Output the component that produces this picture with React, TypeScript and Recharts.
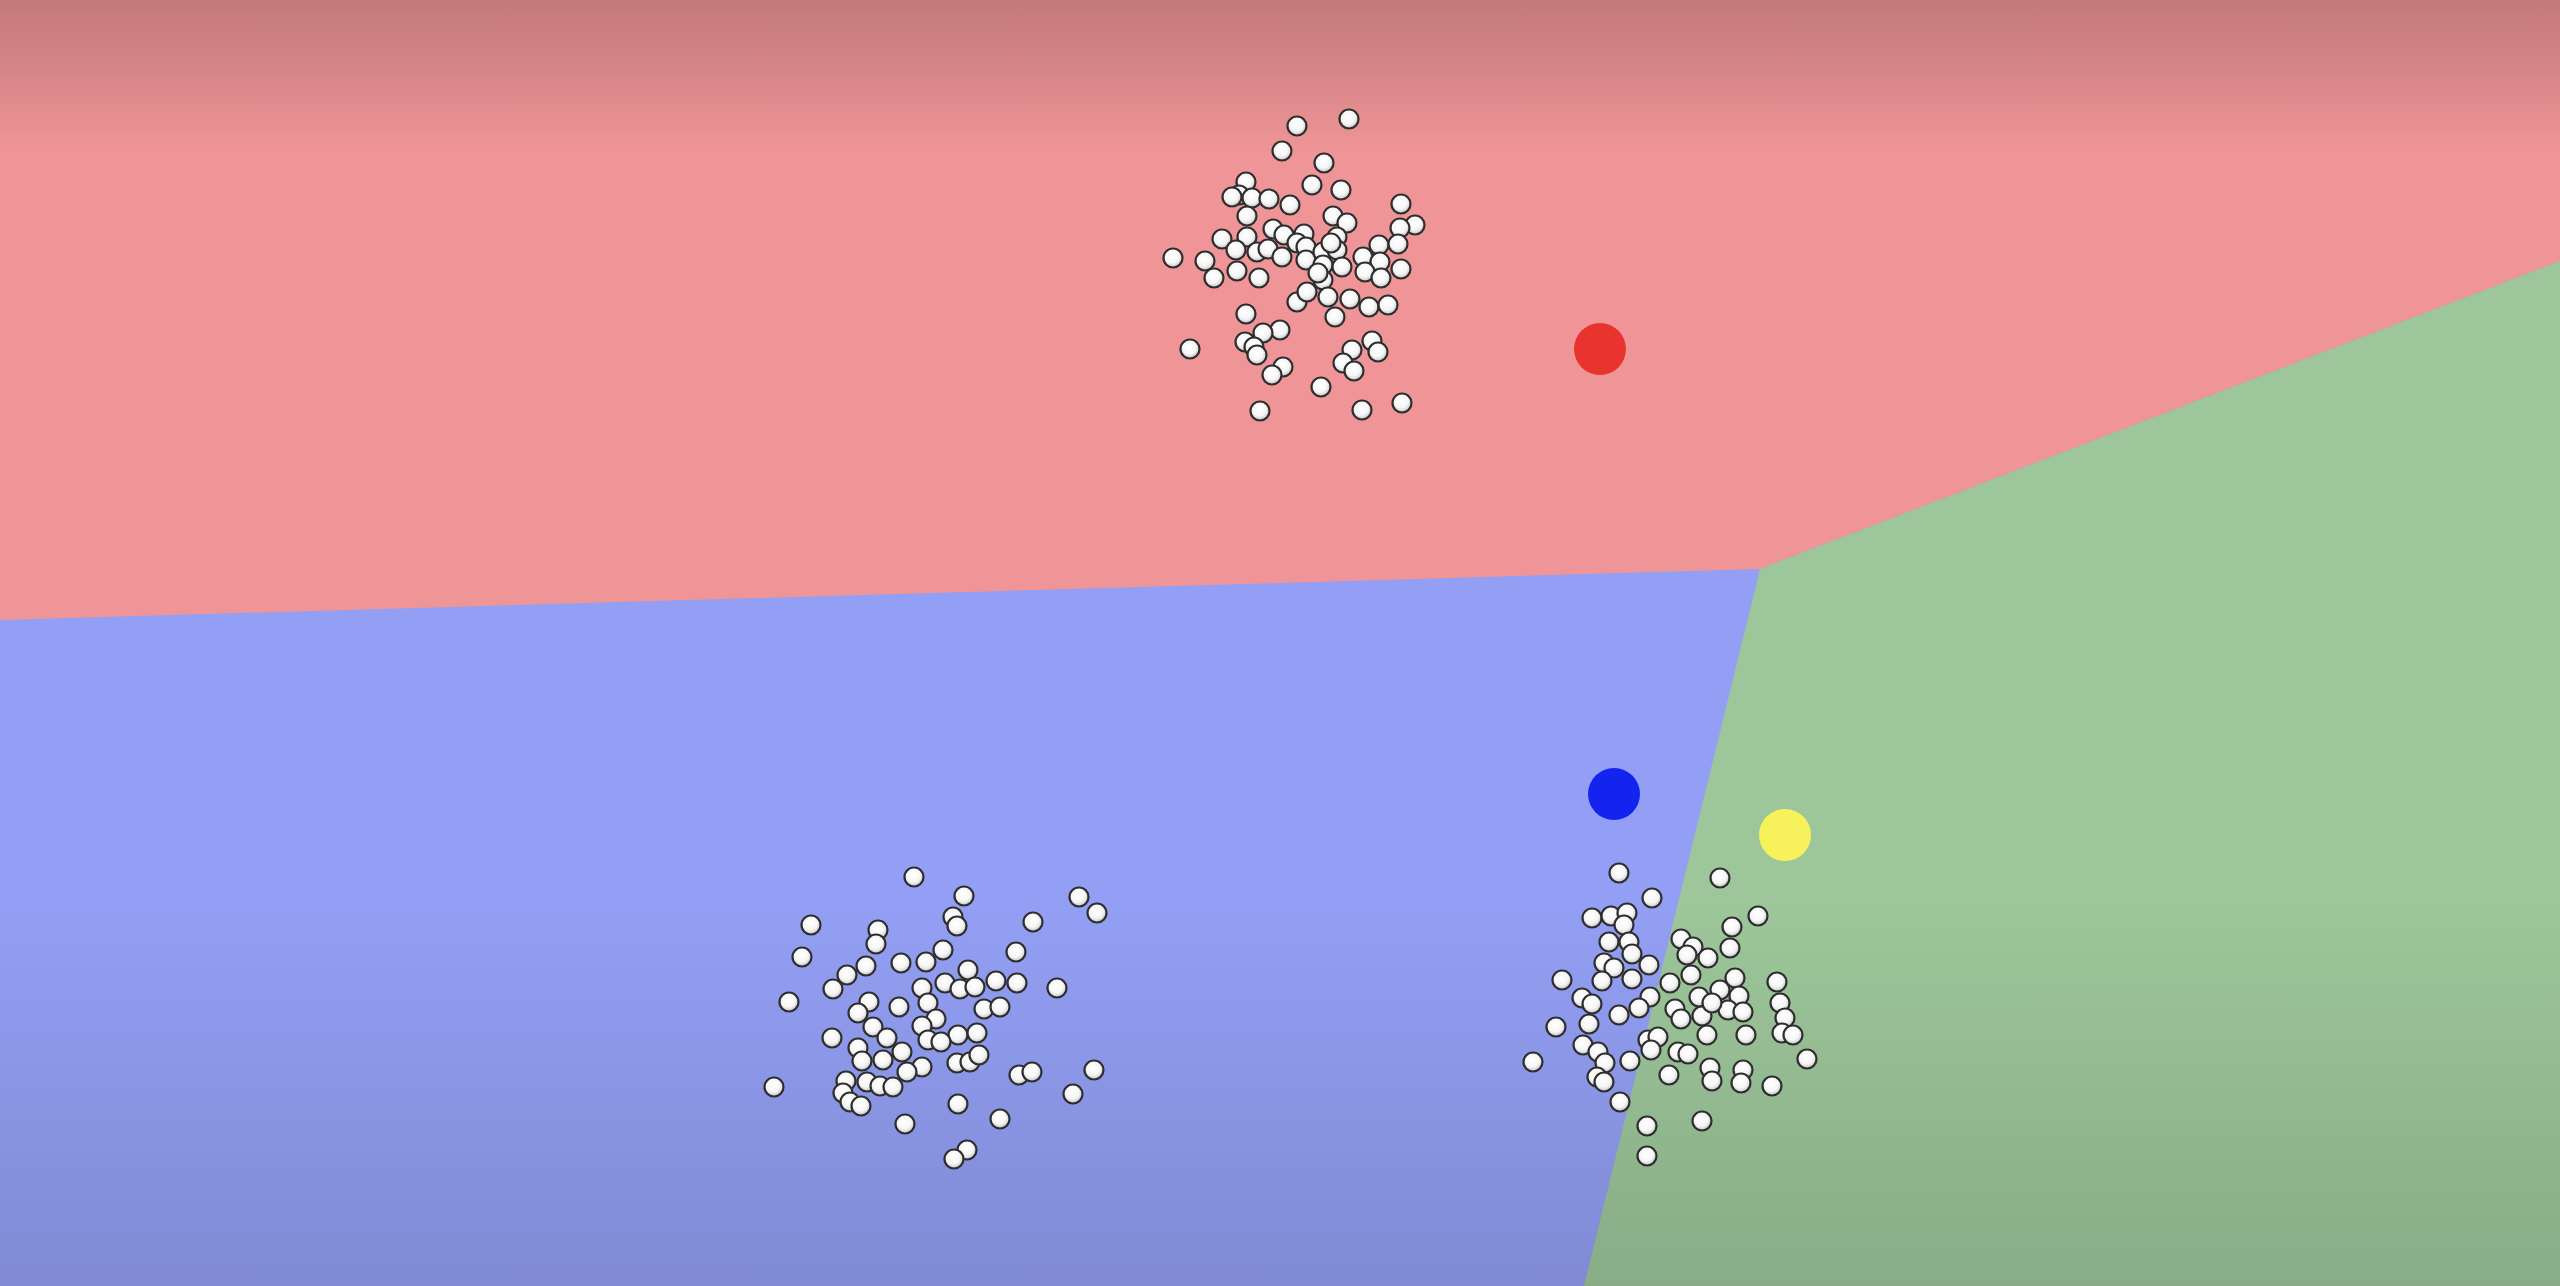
import React from 'react';
import { ComposedChart, Area, Scatter, XAxis, YAxis, ReferenceArea } from 'recharts';

const W = 2560;
const H = 1286;

// region borders (x, [top, bottom]) in picture units, y grows downward
const redRegion = [
  { x: 0, y: [0, 620] },
  { x: 1760, y: [0, 569] },
  { x: 2560, y: [0, 261] },
];
const blueRegion = [
  { x: 0, y: [620, 1286] },
  { x: 1584, y: [574, 1286] },
  { x: 1760, y: [569, 569] },
];
const greenRegion = [
  { x: 1584, y: [1286, 1286] },
  { x: 1760, y: [569, 1286] },
  { x: 2560, y: [261, 1286] },
];

const topCluster = [
  [1297, 126], [1349, 119], [1282, 151], [1324, 163], [1312, 185], [1341, 190],
  [1246, 182], [1239, 195], [1252, 198], [1269, 199], [1290, 205], [1401, 204],
  [1247, 216], [1333, 216], [1347, 223], [1415, 225], [1400, 228], [1222, 239],
  [1247, 237], [1273, 229], [1284, 235], [1304, 234], [1337, 237], [1236, 250],
  [1257, 252], [1268, 249], [1282, 257], [1297, 243], [1306, 247], [1306, 260],
  [1323, 252], [1337, 250], [1379, 245], [1398, 244], [1173, 258], [1205, 261],
  [1363, 257], [1380, 262], [1214, 278], [1237, 271], [1259, 278], [1323, 265],
  [1342, 267], [1365, 272], [1381, 278], [1401, 269], [1323, 280], [1297, 302],
  [1307, 292], [1328, 297], [1350, 299], [1369, 307], [1388, 305], [1335, 317],
  [1246, 314], [1280, 330], [1263, 333], [1245, 342], [1254, 347], [1257, 355],
  [1190, 349], [1372, 341], [1378, 352], [1352, 350], [1343, 363], [1354, 371],
  [1283, 367], [1272, 375], [1321, 387], [1260, 411], [1362, 410], [1402, 403],
  [1232, 197], [1318, 273], [1331, 243],
];

const leftCluster = [
  [914, 877], [964, 896], [1079, 897], [1097, 913], [953, 917], [957, 926],
  [1033, 922], [811, 925], [878, 930], [876, 944], [802, 957], [943, 950],
  [1016, 952], [901, 963], [866, 966], [926, 962], [847, 975], [833, 989],
  [968, 970], [945, 983], [922, 988], [960, 989], [975, 987], [996, 981],
  [1017, 983], [1057, 988], [789, 1002], [869, 1002], [899, 1007], [928, 1003],
  [858, 1013], [984, 1009], [1000, 1007], [936, 1019], [922, 1026], [873, 1027],
  [887, 1038], [832, 1038], [958, 1035], [977, 1033], [928, 1040], [941, 1042],
  [858, 1048], [902, 1052], [862, 1061], [883, 1060], [922, 1067], [907, 1072],
  [957, 1063], [970, 1062], [979, 1055], [1019, 1075], [1032, 1072], [1094, 1070],
  [774, 1087], [846, 1081], [867, 1082], [880, 1086], [893, 1087], [843, 1093],
  [850, 1102], [861, 1106], [1073, 1094], [958, 1104], [1000, 1119], [905, 1124],
  [967, 1150], [954, 1159],
];

const rightCluster = [
  [1619, 873], [1720, 878], [1652, 898], [1758, 916], [1592, 918], [1611, 916],
  [1627, 913], [1624, 925], [1732, 927], [1609, 942], [1629, 942], [1681, 939],
  [1693, 947], [1730, 948], [1632, 954], [1687, 955], [1708, 958], [1649, 965],
  [1604, 963], [1614, 968], [1562, 980], [1602, 981], [1632, 979], [1670, 983],
  [1691, 975], [1735, 978], [1777, 982], [1582, 998], [1592, 1004], [1650, 997],
  [1699, 997], [1720, 990], [1739, 996], [1780, 1003], [1639, 1008], [1619, 1015],
  [1675, 1009], [1681, 1019], [1702, 1016], [1728, 1010], [1743, 1012], [1712, 1003],
  [1556, 1027], [1589, 1024], [1785, 1018], [1707, 1035], [1746, 1035], [1782, 1033],
  [1793, 1035], [1648, 1040], [1658, 1037], [1651, 1050], [1583, 1045], [1598, 1052],
  [1678, 1052], [1688, 1054], [1533, 1062], [1605, 1063], [1630, 1061], [1807, 1059],
  [1710, 1068], [1743, 1070], [1669, 1075], [1597, 1077], [1604, 1082], [1712, 1081],
  [1741, 1083], [1772, 1086], [1620, 1102], [1702, 1121], [1647, 1126], [1647, 1156],
];

const centroids = [
  { x: 1600, y: 349, color: '#e8332f' },
  { x: 1614, y: 794, color: '#1424ef' },
  { x: 1785, y: 835, color: '#f7f25c' },
];

const toPoints = (list: number[][]) => list.map(([x, y]) => ({ x, y }));

const Dot = (props: any) => (
  <circle cx={props.cx} cy={props.cy} r={9.5} fill="url(#ball)" stroke="#2e2e2e" strokeWidth={2.2} />
);

const Centroid = (props: any) => (
  <circle cx={props.cx} cy={props.cy} r={26} fill={props.payload.color} />
);

export default function App() {
  return (
    <div style={{ width: W, height: H, background: '#939ff4', overflow: 'hidden' }}>
      <style>{'body{margin:0;overflow:hidden}'}</style>
      <ComposedChart width={W} height={H} margin={{ top: 0, right: 0, bottom: 0, left: 0 }}>
        <defs>
          <radialGradient id="ball" cx="45%" cy="40%" r="60%">
            <stop offset="0%" stopColor="#ffffff" />
            <stop offset="60%" stopColor="#f6f6f6" />
            <stop offset="100%" stopColor="#c4c4c4" />
          </radialGradient>
          <linearGradient id="shade" x1="0" y1="0" x2="0" y2="1">
            <stop offset="0%" stopColor="#000" stopOpacity={0.19} />
            <stop offset="12%" stopColor="#000" stopOpacity={0} />
            <stop offset="70%" stopColor="#000" stopOpacity={0} />
            <stop offset="100%" stopColor="#000" stopOpacity={0.13} />
          </linearGradient>
        </defs>
        <XAxis type="number" dataKey="x" domain={[0, W]} hide allowDataOverflow />
        <YAxis type="number" domain={[0, H]} reversed hide allowDataOverflow />
        <Area data={blueRegion} dataKey="y" type="linear" fill="#939ff4" fillOpacity={1}
          stroke="none" dot={false} activeDot={false} isAnimationActive={false} />
        <Area data={redRegion} dataKey="y" type="linear" fill="#ef9597" fillOpacity={1}
          stroke="none" dot={false} activeDot={false} isAnimationActive={false} />
        <Area data={greenRegion} dataKey="y" type="linear" fill="#9dc69a" fillOpacity={1}
          stroke="none" dot={false} activeDot={false} isAnimationActive={false} />
        <ReferenceArea x1={0} x2={W} y1={0} y2={H} fill="url(#shade)" fillOpacity={1} stroke="none" />
        <Scatter data={toPoints(topCluster)} dataKey="y" shape={Dot} isAnimationActive={false} />
        <Scatter data={toPoints(leftCluster)} dataKey="y" shape={Dot} isAnimationActive={false} />
        <Scatter data={toPoints(rightCluster)} dataKey="y" shape={Dot} isAnimationActive={false} />
        <Scatter data={centroids} dataKey="y" shape={Centroid} isAnimationActive={false} />
      </ComposedChart>
    </div>
  );
}
